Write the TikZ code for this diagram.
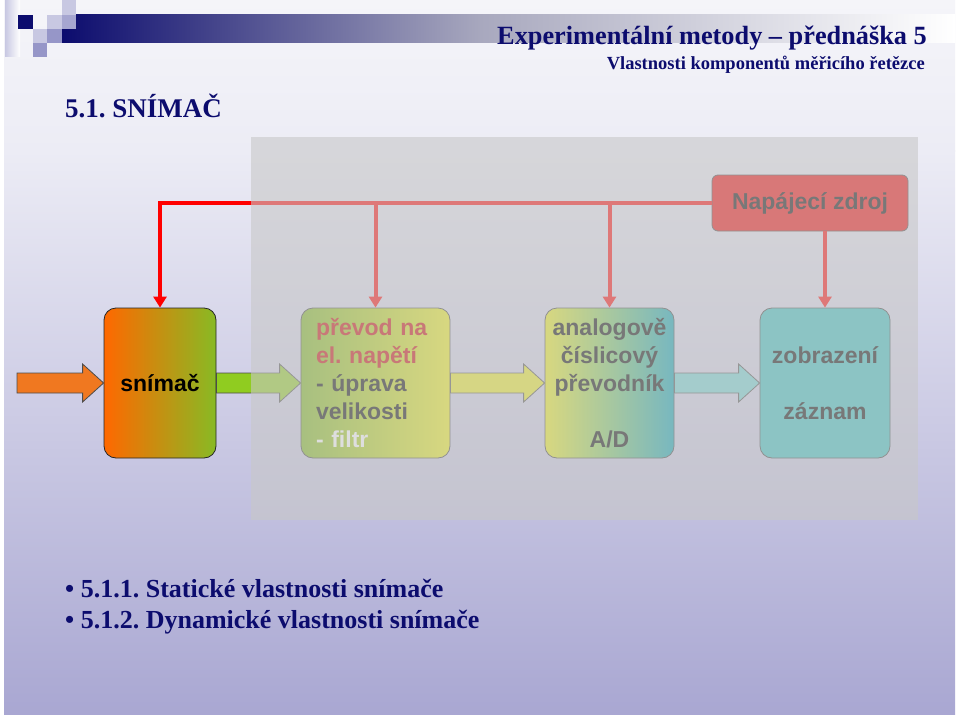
\documentclass[tikz,border=0pt]{standalone}
\usepackage{fontspec}
\setmainfont{Liberation Serif}
\setsansfont{Liberation Sans}
\usepackage{tikz}
\usetikzlibrary{arrows.meta, calc, shapes.misc}
\frenchspacing

\definecolor{navy}{RGB}{12,12,110}
\definecolor{slidetop}{RGB}{245,245,249}
\definecolor{slidemid}{RGB}{236,236,245}
\definecolor{slidebot}{RGB}{169,167,210}
\definecolor{sqlight}{RGB}{200,200,226}
\definecolor{sqmid}{RGB}{150,150,200}
\definecolor{barmid}{RGB}{168,168,190}
\definecolor{snorange}{RGB}{255,104,0}
\definecolor{sngreen}{RGB}{136,186,36}
\definecolor{pvgreen}{RGB}{120,180,20}
\definecolor{pvyellow}{RGB}{240,240,20}
\definecolor{pvred}{RGB}{200,0,0}
\definecolor{adteal}{RGB}{0,160,180}
\definecolor{zzteal}{RGB}{50,190,190}
\definecolor{zdrojred}{RGB}{240,0,0}
\definecolor{wirered}{RGB}{255,0,0}
\definecolor{arrorange}{RGB}{240,120,32}
\definecolor{arrgreen}{RGB}{144,204,32}
\definecolor{arryellow}{RGB}{236,236,30}
\definecolor{arrteal}{RGB}{110,210,210}
\definecolor{panelgray}{RGB}{200,200,200}

% block arrow from #1 to #2, filled with #3
\newcommand{\sipka}[3]{%
	\filldraw[sipka, fill=#3] ($(#1)+(0,-10)$) -- ($(#2)+(-21,-10)$) -- ($(#2)+(-21,-19)$)
	-- (#2) -- ($(#2)+(-21,19)$) -- ($(#2)+(-21,10)$) -- ($(#1)+(0,10)$) -- cycle;
}

\begin{document}
\begin{tikzpicture}[x=1pt, y=-1pt,
	blok/.style={rounded corners=12pt, draw=black!75, line width=0.8pt,
		minimum height=150pt, inner sep=0pt,
		font=\sffamily\bfseries\fontsize{23}{28}\selectfont},
	wire/.style={draw=wirered, line width=4pt, -{Triangle[width=13pt,length=11pt]}},
	sipka/.style={draw=black!70, line width=0.8pt},
	nadpis/.style={text=navy, inner sep=0pt},
	]
	\useasboundingbox (0,0) rectangle (960,717);
	% slide background
	\fill[white] (0,0) rectangle (960,717);
	\shade[top color=slidetop, bottom color=slidemid] (4,0) rectangle (955,151);
	\shade[top color=slidemid, bottom color=slidebot] (4,150) rectangle (955,714);

	% header bar and squares
	\shade[left color=navy, right color=barmid] (62,15) rectangle (481,43);
	\shade[left color=barmid, right color=white] (480,15) rectangle (955,43);
	\shade[left color=sqlight, right color=white] (5,0) rectangle (20,57);
	\fill[navy] (18,15) rectangle (33,29);
	\fill[sqlight] (33,29) rectangle (47,43);
	\fill[sqmid] (33,43) rectangle (47,57);
	\fill[sqlight] (47,15) rectangle (62,29);
	\fill[sqmid] (47,29) rectangle (62,43);
	\fill[sqlight] (62,0) rectangle (76,15);
	\fill[sqmid!85] (62,15) rectangle (76,29);

	\node[nadpis, anchor=base east, font=\bfseries\fontsize{26.3}{30}\selectfont] (titul) at (927,45)
		{Experimentální metody -- přednáška 5};
	\node[nadpis, anchor=base east, font=\bfseries\fontsize{18.5}{22}\selectfont] (podtitul) at (925,70)
		{Vlastnosti komponentů měřicího řetězce};
	\node[nadpis, anchor=base west, font=\bfseries\fontsize{27}{32}\selectfont] (kapitola) at (65,117)
		{5.1. SNÍMAČ};

	% measuring chain
	\node[blok, minimum width=112pt, left color=snorange, right color=sngreen, draw=black!85] (snimac) at (160,383) {snímač};
	\node[blok, minimum width=149pt, text width=119pt, align=left,
		left color=pvgreen, right color=pvyellow] (prevod) at (375.5,383)
		{\textcolor{pvred}{převod na}\\\textcolor{pvred}{el. napětí}\\- úprava\\velikosti\\\textcolor{white}{- filtr}};
	\node[blok, minimum width=129pt, align=center,
		left color=pvyellow, middle color=pvyellow!70!adteal, right color=adteal] (adprev) at (609.5,383)
		{analogově\\číslicový\\převodník\\[28pt]A/D};
	\node[blok, minimum width=130pt, align=center, fill=zzteal] (zaznam) at (825,383)
		{zobrazení\\[28pt]záznam};
	\node[blok, minimum width=196pt, minimum height=56pt, rounded corners=6pt, fill=zdrojred] (zdroj) at (810,203)
		{Napájecí zdroj};

	\draw[wire] (zdroj.west) -| (snimac.north);
	\draw[wire] (prevod.north |- zdroj.west) -- (prevod.north);
	\draw[wire] (adprev.north |- zdroj.west) -- (adprev.north);
	\draw[wire] (zdroj.south -| zaznam.north) -- (zaznam.north);

	\coordinate (vstup) at (17,383);
	\sipka{vstup}{snimac.west}{arrorange}
	\sipka{snimac.east}{prevod.west}{arrgreen}
	\sipka{prevod.east}{adprev.west}{arryellow}
	\sipka{adprev.east}{zaznam.west}{arrteal}

	% grey panel over the chain
	\fill[panelgray, fill opacity=0.6] (251,137) rectangle (918,520);

	\node[nadpis, anchor=base west, font=\bfseries\fontsize{26}{31}\selectfont] (bodA) at (65,597)
		{\textbullet\ 5.1.1. Statické vlastnosti snímače};
	\node[nadpis, anchor=base west, font=\bfseries\fontsize{26}{31}\selectfont] (bodB) at (65,628)
		{\textbullet\ 5.1.2. Dynamické vlastnosti snímače};
\end{tikzpicture}
\end{document}
